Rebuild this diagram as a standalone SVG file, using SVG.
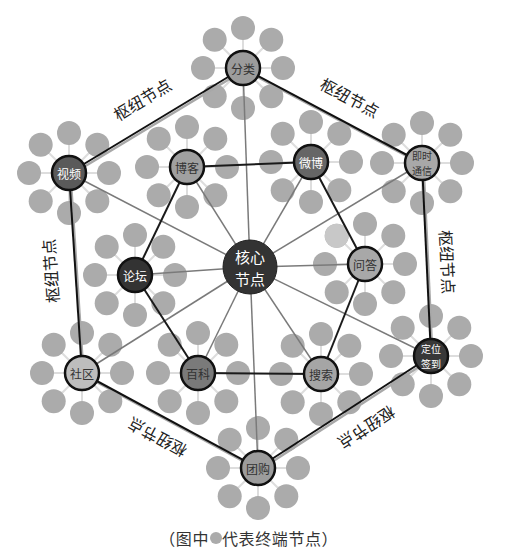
<svg xmlns="http://www.w3.org/2000/svg" xmlns:xlink="http://www.w3.org/1999/xlink" width="515" height="556" viewBox="0 0 515 556">
<style>
text{font-family:"Noto Sans CJK SC","Liberation Sans",sans-serif;}
.sat{fill:#ababab;}
.satl{stroke:#dddddd;stroke-width:2;}
.hub{stroke:#111;stroke-width:2.5;}
.lbl{font-size:12px;text-anchor:middle;dominant-baseline:central;}
.lbl2{font-size:10px;text-anchor:middle;dominant-baseline:central;}
.dk{fill:#333;}
.wt{fill:#fff;}
.hexs{stroke:#a8a8a8;stroke-width:2.5;}
.hex{stroke:#111;stroke-width:2;}
.inner{stroke:#1a1a1a;stroke-width:2;}
.spoke{stroke:#7a7a7a;stroke-width:1.5;}
.edge{font-size:16px;fill:#222;text-anchor:middle;dominant-baseline:central;}
.cap{font-size:16px;fill:#333;dominant-baseline:central;letter-spacing:0.6px;}
.core{font-size:15px;text-anchor:middle;dominant-baseline:central;}
</style>
<defs>
<g id="sat8">
<line class="satl" x1="0" y1="0" x2="0" y2="-40"/>
<line class="satl" x1="0" y1="0" x2="28.3" y2="-28.3"/>
<line class="satl" x1="0" y1="0" x2="40" y2="0"/>
<line class="satl" x1="0" y1="0" x2="28.3" y2="28.3"/>
<line class="satl" x1="0" y1="0" x2="0" y2="40"/>
<line class="satl" x1="0" y1="0" x2="-28.3" y2="28.3"/>
<line class="satl" x1="0" y1="0" x2="-40" y2="0"/>
<line class="satl" x1="0" y1="0" x2="-28.3" y2="-28.3"/>
<circle class="sat" cx="0" cy="-40" r="12"/>
<circle class="sat" cx="28.3" cy="-28.3" r="12"/>
<circle class="sat" cx="40" cy="0" r="12"/>
<circle class="sat" cx="28.3" cy="28.3" r="12"/>
<circle class="sat" cx="0" cy="40" r="12"/>
<circle class="sat" cx="-28.3" cy="28.3" r="12"/>
<circle class="sat" cx="-40" cy="0" r="12"/>
<circle class="sat" cx="-28.3" cy="-28.3" r="12"/>
</g>
</defs>
<rect width="515" height="556" fill="#fff"/>

<g id="terminals">
<g id="t-fenlei"><use xlink:href="#sat8" href="#sat8" x="243" y="68"/></g>
<g id="t-jishi"><use xlink:href="#sat8" href="#sat8" x="422" y="163"/></g>
<g id="t-dingwei"><use xlink:href="#sat8" href="#sat8" x="431" y="356"/></g>
<g id="t-tuangou"><use xlink:href="#sat8" href="#sat8" x="258" y="468"/></g>
<g id="t-shequ"><use xlink:href="#sat8" href="#sat8" x="82" y="373"/></g>
<g id="t-shipin"><use xlink:href="#sat8" href="#sat8" x="69" y="173"/></g>
<g id="t-boke"><use xlink:href="#sat8" href="#sat8" x="187" y="167"/></g>
<g id="t-weibo"><use xlink:href="#sat8" href="#sat8" x="311" y="162"/></g>
<g id="t-wenda"><use xlink:href="#sat8" href="#sat8" x="365" y="264"/><circle cx="336.7" cy="235.7" r="12" fill="#c8c8c8"/></g>
<g id="t-sousuo"><use xlink:href="#sat8" href="#sat8" x="321" y="374"/></g>
<g id="t-baike"><use xlink:href="#sat8" href="#sat8" x="198" y="373"/></g>
<g id="t-luntan"><use xlink:href="#sat8" href="#sat8" x="135" y="275"/></g>
</g>

<g id="connectors">
<line class="spoke" x1="250" y1="267" x2="243" y2="68"/>
<line class="spoke" x1="250" y1="267" x2="422" y2="163"/>
<line class="spoke" x1="250" y1="267" x2="431" y2="356"/>
<line class="spoke" x1="250" y1="267" x2="258" y2="468"/>
<line class="spoke" x1="250" y1="267" x2="82" y2="373"/>
<line class="spoke" x1="250" y1="267" x2="69" y2="173"/>
<line class="spoke" x1="250" y1="267" x2="187" y2="167"/>
<line class="spoke" x1="250" y1="267" x2="311" y2="162"/>
<line class="spoke" x1="250" y1="267" x2="365" y2="264"/>
<line class="spoke" x1="250" y1="267" x2="321" y2="374"/>
<line class="spoke" x1="250" y1="267" x2="198" y2="373"/>
<line class="spoke" x1="250" y1="267" x2="135" y2="275"/>
<line class="inner" x1="187" y1="167" x2="311" y2="162"/>
<line class="inner" x1="311" y1="162" x2="365" y2="264"/>
<line class="inner" x1="365" y1="264" x2="321" y2="374"/>
<line class="inner" x1="321" y1="374" x2="198" y2="373"/>
<line class="inner" x1="198" y1="373" x2="135" y2="275"/>
<line class="inner" x1="135" y1="275" x2="187" y2="167"/>
<line class="hexs" x1="244.5" y1="70" x2="423.5" y2="165"/>
<line class="hexs" x1="423.5" y1="165" x2="432.5" y2="358"/>
<line class="hexs" x1="432.5" y1="358" x2="259.5" y2="470"/>
<line class="hexs" x1="259.5" y1="470" x2="83.5" y2="375"/>
<line class="hexs" x1="83.5" y1="375" x2="70.5" y2="175"/>
<line class="hexs" x1="70.5" y1="175" x2="244.5" y2="70"/>
<line class="hex" x1="243" y1="68" x2="422" y2="163"/>
<line class="hex" x1="422" y1="163" x2="431" y2="356"/>
<line class="hex" x1="431" y1="356" x2="258" y2="468"/>
<line class="hex" x1="258" y1="468" x2="82" y2="373"/>
<line class="hex" x1="82" y1="373" x2="69" y2="173"/>
<line class="hex" x1="69" y1="173" x2="243" y2="68"/>
</g>

<g id="edge-labels">
<text class="edge" transform="translate(142,99) rotate(-31)">枢纽节点</text>
<text class="edge" transform="translate(350,97) rotate(28)">枢纽节点</text>
<text class="edge" transform="translate(448,262) rotate(87)">枢纽节点</text>
<text class="edge" transform="translate(367,428) rotate(147)">枢纽节点</text>
<text class="edge" transform="translate(157,438) rotate(-152)">枢纽节点</text>
<text class="edge" transform="translate(50,271) rotate(-94)">枢纽节点</text>
</g>

<g id="n-fenlei"><circle class="hub" cx="243" cy="68" r="17" fill="#9c9c9c"/><text class="lbl dk" x="243" y="68">分类</text></g>
<g id="n-jishi"><circle class="hub" cx="422" cy="163" r="17" fill="#a8a8a8"/><text class="lbl2 dk" x="422" y="155.8">即时</text><text class="lbl2 dk" x="422" y="170.4">通信</text></g>
<g id="n-dingwei"><circle class="hub" cx="431" cy="356" r="17" fill="#383838"/><text class="lbl2 wt" x="431" y="348.8">定位</text><text class="lbl2 wt" x="431" y="363.4">签到</text></g>
<g id="n-tuangou"><circle class="hub" cx="258" cy="468" r="17" fill="#9c9c9c"/><text class="lbl dk" x="258" y="468">团购</text></g>
<g id="n-shequ"><circle class="hub" cx="82" cy="373" r="17" fill="#bdbdbd"/><text class="lbl dk" x="82" y="373">社区</text></g>
<g id="n-shipin"><circle class="hub" cx="69" cy="173" r="17" fill="#5a5a5a"/><text class="lbl wt" x="69" y="173">视频</text></g>
<g id="n-boke"><circle class="hub" cx="187" cy="167" r="17" fill="#a0a0a0"/><text class="lbl dk" x="187" y="167">博客</text></g>
<g id="n-weibo"><circle class="hub" cx="311" cy="162" r="17" fill="#666666"/><text class="lbl wt" x="311" y="162">微博</text></g>
<g id="n-wenda"><circle class="hub" cx="365" cy="264" r="17" fill="#a8a8a8"/><text class="lbl dk" x="365" y="264">问答</text></g>
<g id="n-sousuo"><circle class="hub" cx="321" cy="374" r="17" fill="#a5a5a5"/><text class="lbl dk" x="321" y="374">搜索</text></g>
<g id="n-baike"><circle class="hub" cx="198" cy="373" r="17" fill="#7a7a7a"/><text class="lbl dk" x="198" y="373">百科</text></g>
<g id="n-luntan"><circle class="hub" cx="135" cy="275" r="17" fill="#333333"/><text class="lbl wt" x="135" y="275">论坛</text></g>
<g id="n-core"><circle cx="250" cy="267" r="27" fill="#333333" stroke="#222" stroke-width="1"/><text class="core wt" x="250" y="256">核心</text><text class="core wt" x="250" y="278">节点</text></g>

<g id="caption">
<text class="cap" x="209" y="538" text-anchor="end">（图中</text>
<circle cx="216" cy="538" r="6" fill="#ababab"/>
<text class="cap" x="222" y="538">代表终端节点）</text>
</g>
</svg>
